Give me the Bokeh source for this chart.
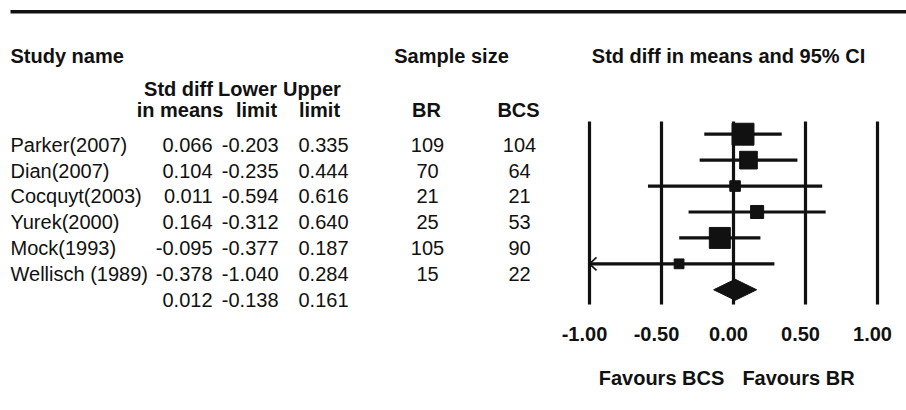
import numpy as np
from bokeh.plotting import figure
from bokeh.models import Range1d, ColumnDataSource
from bokeh.core.properties import value
from bokeh.embed import file_html
from bokeh.resources import INLINE

# ---------------- data ----------------
studies = ["Parker(2007)", "Dian(2007)", "Cocquyt(2003)", "Yurek(2000)",
           "Mock(1993)", "Wellisch (1989)"]
std_diff = [0.066, 0.104, 0.011, 0.164, -0.095, -0.378]
lower = [-0.203, -0.235, -0.594, -0.312, -0.377, -1.040]
upper = [0.335, 0.444, 0.616, 0.640, 0.187, 0.284]
n_br = [109, 70, 21, 25, 105, 15]
n_bcs = [104, 64, 21, 53, 90, 22]
summary_est = 0.012
summary_lower = -0.138
summary_upper = 0.161
ticks = [-1.0, -0.5, 0.0, 0.5, 1.0]
tick_labels = ["-1.00", "-0.50", "0.00", "0.50", "1.00"]

# ---------------- layout helpers ----------------
W, H = 906, 410
X0PX, XSCALE = 733.0, 144.0     # pixel of effect 0, pixels per unit
Y0PX, YSCALE = 133.7, 25.93     # pixel of first row, pixels per row


def px2x(px):
    return (px - X0PX) / XSCALE


def py2y(py):
    return (py - Y0PX) / YSCALE


INK = "#111111"
FONT = value("Liberation Sans")
FS = "20px"

p = figure(width=W, height=H,
           x_range=Range1d(px2x(0), px2x(W)),
           y_range=Range1d(py2y(H), py2y(0)),
           toolbar_location=None, output_backend="svg", min_border=0,
           x_axis_location=None, y_axis_location=None)
p.grid.visible = False
p.outline_line_color = None
p.background_fill_color = "white"
p.border_fill_color = "white"

n = len(studies)
rows = list(range(n))
xmin, xmax = ticks[0], ticks[-1]

# top rule
p.segment(x0=[px2x(10)], y0=[py2y(11.3)], x1=[px2x(W)], y1=[py2y(11.3)],
          line_width=3.4, line_color=INK)

# reference lines at ticks
p.segment(x0=ticks, y0=[py2y(121)] * len(ticks), x1=ticks,
          y1=[py2y(304)] * len(ticks), line_width=3.2, line_color=INK)

# confidence intervals
lo_clip = [max(v, xmin) for v in lower]
hi_clip = [min(v, xmax) for v in upper]
p.segment(x0=lo_clip, y0=rows, x1=hi_clip, y1=rows, line_width=3.2,
          line_color=INK)

# open arrow heads for clipped intervals
dx, dy = px2x(7) - px2x(0), 6.5 / YSCALE
ax, ay = [], []
for i in rows:
    if lower[i] < xmin:
        ax.append([xmin + dx, xmin, xmin + dx])
        ay.append([i - dy, i, i + dy])
if ax:
    p.multi_line(xs=ax, ys=ay, line_width=1.6, line_color=INK)

# squares, size from inverse-variance weight
sizes = [10.976 / (u - l) + 1.5 for l, u in zip(lower, upper)]
p.scatter(x=std_diff, y=rows, size=sizes, marker="square",
          fill_color=INK, line_color=INK)

# summary diamond
sr = n
hh = 10.5 / YSCALE
p.patch(x=[summary_lower, summary_est, summary_upper, summary_est],
        y=[sr, sr - hh, sr, sr + hh], fill_color=INK, line_color=INK)

# ---------------- table text ----------------
base = 10.4 / YSCALE   # baseline offset below row centre
fmt = lambda v: f"{v:.3f}"


def txt(x, y, t, align="left", bold=False, xoff=0):
    p.text(x=x, y=y, text=t, text_font=FONT, text_font_size=FS,
           text_align=align, text_baseline="alphabetic", text_color=INK,
           text_font_style="bold" if bold else "normal", x_offset=xoff)


row_y = [i + base for i in rows]
all_y = [i + base for i in range(n + 1)]
txt([px2x(10)] * n, row_y, studies, "left")
txt([px2x(212)] * (n + 1), all_y, [fmt(v) for v in std_diff + [summary_est]], "right")
txt([px2x(278)] * (n + 1), all_y, [fmt(v) for v in lower + [summary_lower]], "right")
txt([px2x(348)] * (n + 1), all_y, [fmt(v) for v in upper + [summary_upper]], "right")
txt([px2x(427)] * n, row_y, [str(v) for v in n_br], "center")
txt([px2x(519)] * n, row_y, [str(v) for v in n_bcs], "center")

# headers
h1 = py2y(55.8)
h2 = py2y(88.8)
h3 = py2y(109.8)
txt([px2x(10)], [h1], ["Study name"], "left", True)
txt([px2x(451)], [h1], ["Sample size"], "center", True)
txt([px2x(728)], [h1], ["Std diff in means and 95% CI"], "center", True)
txt([px2x(178), px2x(247), px2x(311.5)], [h2] * 3,
    ["Std diff", "Lower", "Upper"], "center", True)
txt([px2x(179.5), px2x(256), px2x(319)], [h3] * 3,
    ["in means", "limit", "limit"], "center", True)
txt([px2x(426), px2x(518)], [h3] * 2, ["BR", "BCS"], "center", True)

# axis tick labels
txt(ticks, [py2y(333.3)] * len(ticks), tick_labels, "center", True, -5)

# favours labels
fy = py2y(377.5)
txt([px2x(661)], [fy], ["Favours BCS"], "center", True)
txt([px2x(798)], [fy], ["Favours BR"], "center", True)

open("out.html", "w").write(file_html(p, INLINE))
